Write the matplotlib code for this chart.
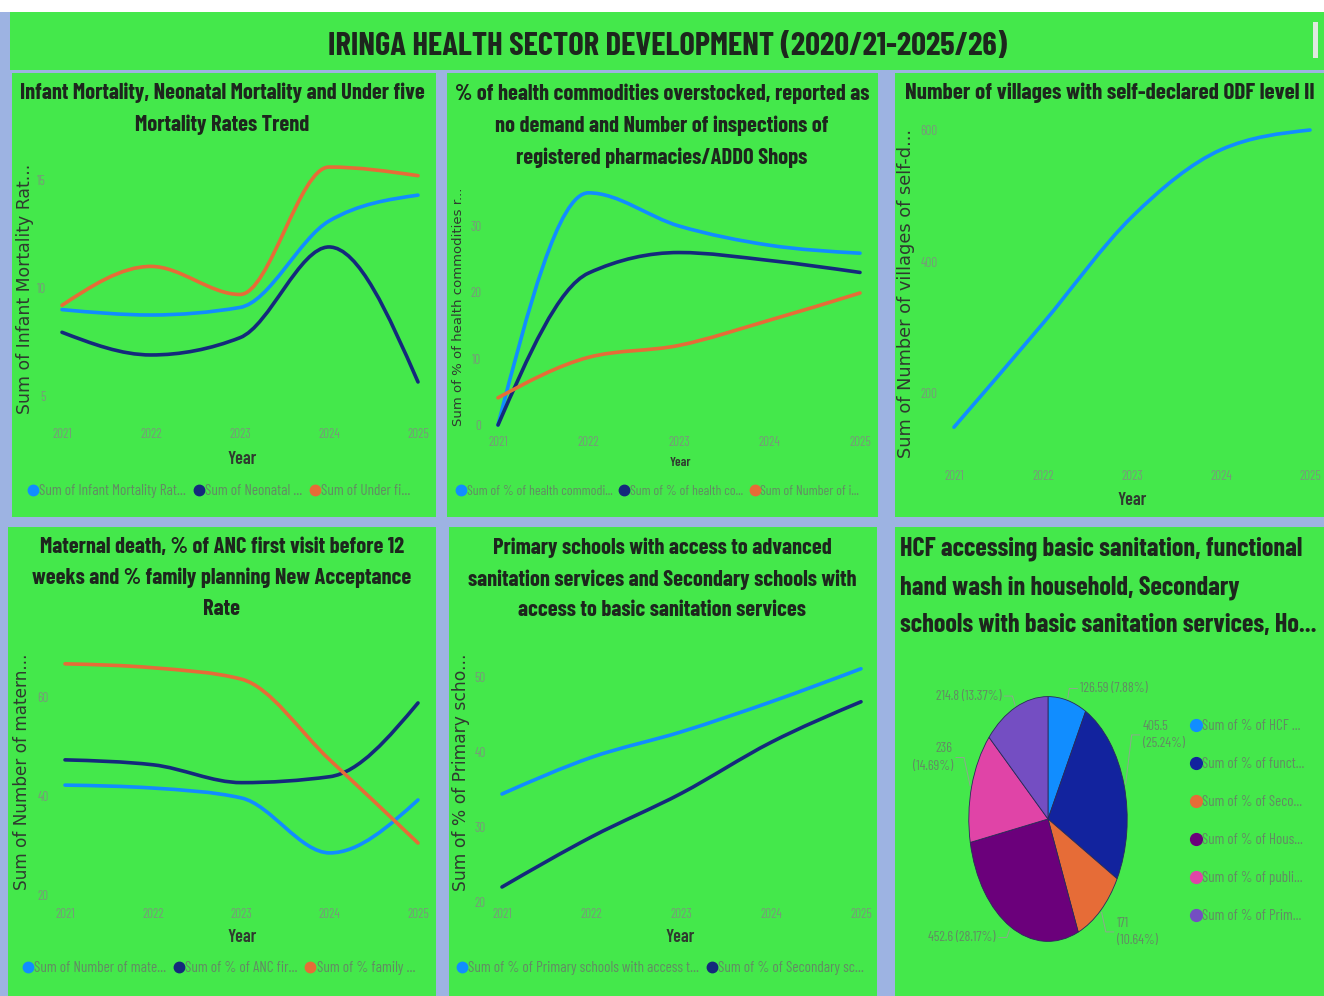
import numpy as np
import matplotlib
matplotlib.use("Agg")
import matplotlib.pyplot as plt
from matplotlib.patches import Rectangle, PathPatch
from matplotlib.path import Path
from matplotlib.lines import Line2D

W, H = 1324, 996

years = [2021, 2022, 2023, 2024, 2025]

# mortality rates
infant = [9.0, 8.75, 9.1, 13.1, 14.3]
neonatal = [7.95, 6.9, 7.7, 11.9, 5.65]
under_five = [9.2, 11.0, 9.7, 15.6, 15.2]

# health commodities / inspections
overstocked = [0.0, 35.0, 30.0, 27.1, 25.9]
no_demand = [0.0, 22.9, 26.0, 24.8, 23.0]
inspections = [4.1, 10.2, 12.0, 15.8, 19.9]

# ODF level II villages
odf_villages = [148, 306, 468, 570, 600]

# maternal / ANC / family planning
maternal_death = [42.2, 41.6, 39.6, 28.5, 39.2]
anc_first_visit = [47.3, 46.3, 42.7, 43.9, 58.8]
fp_acceptance = [66.7, 65.9, 63.6, 47.3, 30.5]

# school sanitation
primary_advanced = [34.4, 39.3, 42.7, 46.7, 51.1]
secondary_basic = [22.0, 28.7, 34.5, 41.3, 46.7]

# sanitation pie
pie_values = [126.59, 405.5, 171, 452.6, 236, 214.8]
pie_names = ["Sum of % of HCF ...", "Sum of % of funct...", "Sum of % of Seco...",
             "Sum of % of Hous...", "Sum of % of publi...", "Sum of % of Prim..."]
pie_wrap = [False, True, True, False, True, False]
pie_label_dy = [0.0, 0.38, -0.1, 0.0, 0.21, 0.0]

GREEN = "#44E84B"
GAP = "#9DB3E2"
BLUE = "#118DFF"
NAVY = "#14297C"
ORANGE = "#E66C37"
PIE_COLORS = ["#118DFF", "#12239E", "#E66C37", "#6B007B", "#E044A7", "#744EC2"]
TITLE_C = "#1d261d"
TICK_C = "#78997a"
LEG_C = "#638a64"

COND = ["Barlow Condensed", "DejaVu Sans"]
SANS = ["DejaVu Sans"]


def fx(x):
    return x / W


def fy(y):
    return 1 - y / H


def smooth_path(x, y):
    """Monotone cubic (d3 monotoneX style) as bezier segments."""
    x = np.asarray(x, float)
    y = np.asarray(y, float)
    h = np.diff(x)
    s = np.diff(y) / h
    n = len(x)
    m = np.zeros(n)
    for i in range(1, n - 1):
        p = (s[i - 1] * h[i] + s[i] * h[i - 1]) / (h[i - 1] + h[i])
        m[i] = (np.sign(s[i - 1]) + np.sign(s[i])) * min(abs(s[i - 1]), abs(s[i]), 0.5 * abs(p))
    m[0] = (3 * s[0] - m[1]) / 2
    m[-1] = (3 * s[-1] - m[-2]) / 2
    verts = [(x[0], y[0])]
    codes = [Path.MOVETO]
    for i in range(n - 1):
        d = h[i] / 3
        verts += [(x[i] + d, y[i] + m[i] * d), (x[i + 1] - d, y[i + 1] - m[i + 1] * d),
                  (x[i + 1], y[i + 1])]
        codes += [Path.CURVE4] * 3
    return Path(verts, codes)


def panel(x0, y0, x1, y1, color=GREEN):
    fig.add_artist(Rectangle((fx(x0), fy(y1)), (x1 - x0) / W, (y1 - y0) / H,
                             transform=fig.transFigure, facecolor=color,
                             edgecolor="none", zorder=0))


def line_axes(x21, x25, yref, top, bottom, yticks, xpad):
    ppy = (x25 - x21) / 4
    left, right = x21 - 0.15 * ppy, x25 + 0.15 * ppy
    (v0, p0), (v1, p1) = yref
    k = (p0 - p1) / (v1 - v0)
    ax = fig.add_axes([fx(left), fy(bottom), (right - left) / W, (bottom - top) / H])
    ax.set_facecolor("none")
    ax.set_xlim(2020.85, 2025.15)
    ax.set_ylim(v0 - (bottom - p0) / k, v0 + (p0 - top) / k)
    ax.set_xticks(years)
    ax.set_yticks(yticks)
    for sp in ax.spines.values():
        sp.set_visible(False)
    ax.tick_params(length=0, labelsize=9.5, labelcolor=TICK_C, labelfontfamily=COND)
    ax.tick_params(axis="x", pad=xpad)
    ax.tick_params(axis="y", pad=2)
    return ax


def draw_series(ax, series, colors):
    for vals, c in zip(series, colors):
        ax.add_patch(PathPatch(smooth_path(years, vals), fill=False, edgecolor=c,
                               lw=2.6, capstyle="round", joinstyle="round"))


def legend_row(ax, labels, colors, x, y, spacing=0.55, fs=11):
    handles = [Line2D([0], [0], marker="o", ls="none", markersize=7.5,
                      markerfacecolor=c, markeredgecolor=c) for c in colors]
    ax.legend(handles, labels, loc="center left", bbox_to_anchor=(fx(x), fy(y)),
              bbox_transform=fig.transFigure, ncol=len(labels), frameon=False,
              handlelength=0.6, handletextpad=0.1, columnspacing=spacing,
              borderpad=0, borderaxespad=0,
              prop={"family": COND, "size": fs}, labelcolor=LEG_C)


def title(x, y, text, ha="center", size=16.2, gap=32):
    # Barlow's line box is a bit shorter than its point size, hence the 1.18
    fig.text(fx(x), fy(y), text, ha=ha, va="center", fontsize=size,
             fontweight="bold", color=TITLE_C, family=COND,
             linespacing=1.18 * gap / (size * 100 / 72))


def ylabel(x, y, text, size=12.4):
    fig.text(fx(x), fy(y), text, rotation=90, ha="center", va="center",
             fontsize=size, color="#2f3a2f", family=SANS)


def xlabel(x, y, size=13):
    fig.text(fx(x), fy(y), "Year", ha="center", va="center", fontsize=size,
             color="#2f3a2f", family=COND, fontweight="semibold")


fig = plt.figure(figsize=(W / 100, H / 100), dpi=100, facecolor="white")

# page background and tiles
panel(0, 12, W, H, GAP)
panel(10, 12, W, 70)
panel(12, 73, 436, 517)
panel(447, 73, 878, 517)
panel(895, 73, W, 517)
panel(8, 527, 436, H)
panel(449, 527, 877, H)
panel(895, 527, W, H)
panel(1313, 22, 1318, 58, "#dfe9df")

fig.text(fx(668), fy(46), "IRINGA HEALTH SECTOR DEVELOPMENT (2020/21-2025/26)",
         ha="center", va="center", fontsize=23.5, fontweight="bold",
         color=TITLE_C, family=COND)

# mortality trend
title(222, 109, "Infant Mortality, Neonatal Mortality and Under five\nMortality Rates Trend")
ax1 = line_axes(62, 418, ((5, 396), (15, 180)), 145, 420, [5, 10, 15], 6)
draw_series(ax1, [infant, neonatal, under_five], [BLUE, NAVY, ORANGE])
ylabel(25, 289, "Sum of Infant Mortality Rat...")
xlabel(242, 460)
legend_row(ax1, ["Sum of Infant Mortality Rat...", "Sum of Neonatal ...", "Sum of Under fi..."],
           [BLUE, NAVY, ORANGE], 28, 491)

# commodities and inspections
title(662, 126, "% of health commodities overstocked, reported as\n"
                "no demand and Number of inspections of\n"
                "registered pharmacies/ADDO Shops", gap=32.5)
ax2 = line_axes(498, 860, ((0, 425), (30, 226)), 180, 432, [0, 10, 20, 30], 3)
draw_series(ax2, [overstocked, no_demand, inspections], [BLUE, NAVY, ORANGE])
ylabel(458, 307, "Sum of % of health commodities r...", size=9.5)
xlabel(680, 463, size=9.5)
legend_row(ax2, ["Sum of % of health commodi...", "Sum of % of health co...", "Sum of Number of i..."],
           [BLUE, NAVY, ORANGE], 457, 491, fs=10)

# ODF villages
title(905, 93, "Number of villages with self-declared ODF level II", ha="left", size=16.6)
ax3 = line_axes(954, 1310, ((200, 393), (600, 130)), 115, 455, [200, 400, 600], 11)
draw_series(ax3, [odf_villages], [BLUE])
ylabel(906, 293, "Sum of Number of villages of self-d...", size=12.8)
xlabel(1132, 500)

# maternal / ANC / FP
title(222, 578, "Maternal death, % of ANC first visit before 12\n"
                "weeks and % family planning New Acceptance\nRate", gap=31.5)
ax4 = line_axes(65, 418, ((20, 895), (60, 697)), 645, 902, [20, 40, 60], 4)
draw_series(ax4, [maternal_death, anc_first_visit, fp_acceptance], [BLUE, NAVY, ORANGE])
ylabel(22, 772, "Sum of Number of matern...", size=12.2)
xlabel(242, 937)
legend_row(ax4, ["Sum of Number of mate...", "Sum of % of ANC fir...", "Sum of % family ..."],
           [BLUE, NAVY, ORANGE], 23, 968)

# school sanitation
title(662, 579, "Primary schools with access to advanced\n"
                "sanitation services and Secondary schools with\n"
                "access to basic sanitation services", gap=31.5)
ax5 = line_axes(502, 861, ((20, 902), (50, 677)), 640, 905, [20, 30, 40, 50], 2)
draw_series(ax5, [primary_advanced, secondary_basic], [BLUE, NAVY])
ylabel(461, 772, "Sum of % of Primary scho...", size=12.3)
xlabel(680, 937)
legend_row(ax5, ["Sum of % of Primary schools with access t...", "Sum of % of Secondary sc..."],
           [BLUE, NAVY], 457, 968)

# sanitation pie
title(900, 587, "HCF accessing basic sanitation, functional\n"
                "hand wash in household, Secondary\n"
                "schools with basic sanitation services, Ho...", ha="left", size=18.9,
      gap=38.5)
ax6 = fig.add_axes([fx(949), fy(972), 198 / W, 306 / H])
wedges, _ = ax6.pie(pie_values, colors=PIE_COLORS, startangle=90, counterclock=False,
                    wedgeprops={"linewidth": 0.6, "edgecolor": "#2a2a5a"})
ax6.set_aspect("auto")
ax6.set_xlim(-1.25, 1.25)
ax6.set_ylim(-1.25, 1.25)
total = sum(pie_values)
for w, v, wrap, dy in zip(wedges, pie_values, pie_wrap, pie_label_dy):
    ang = np.deg2rad((w.theta1 + w.theta2) / 2)
    cx, cy = np.cos(ang), np.sin(ang)
    side = 1 if cx >= 0 else -1
    ex, ey = 1.1 * cx, 1.1 * cy + dy
    ax6.plot([1.02 * cx, ex, ex + side * 0.1], [1.02 * cy, ey, ey], color="#8fa88f",
             lw=0.7, clip_on=False)
    txt = f"{v:g}" + ("\n" if wrap else " ") + f"({v / total * 100:.2f}%)"
    ax6.text(ex + side * 0.14, ey, txt, ha="left" if side > 0 else "right", va="center",
             fontsize=10, color=LEG_C, family=COND, linespacing=1.45, clip_on=False)
handles = [Line2D([0], [0], marker="o", ls="none", markersize=8.5,
                  markerfacecolor=c, markeredgecolor=c) for c in PIE_COLORS]
ax6.legend(handles, pie_names, loc="upper left", bbox_to_anchor=(fx(1191), fy(719)),
           bbox_transform=fig.transFigure, frameon=False, handlelength=0.6,
           handletextpad=0.15, labelspacing=1.6, borderpad=0, borderaxespad=0,
           prop={"family": COND, "size": 10.8}, labelcolor=LEG_C)

fig.savefig("out.png", dpi=100, facecolor="white")
